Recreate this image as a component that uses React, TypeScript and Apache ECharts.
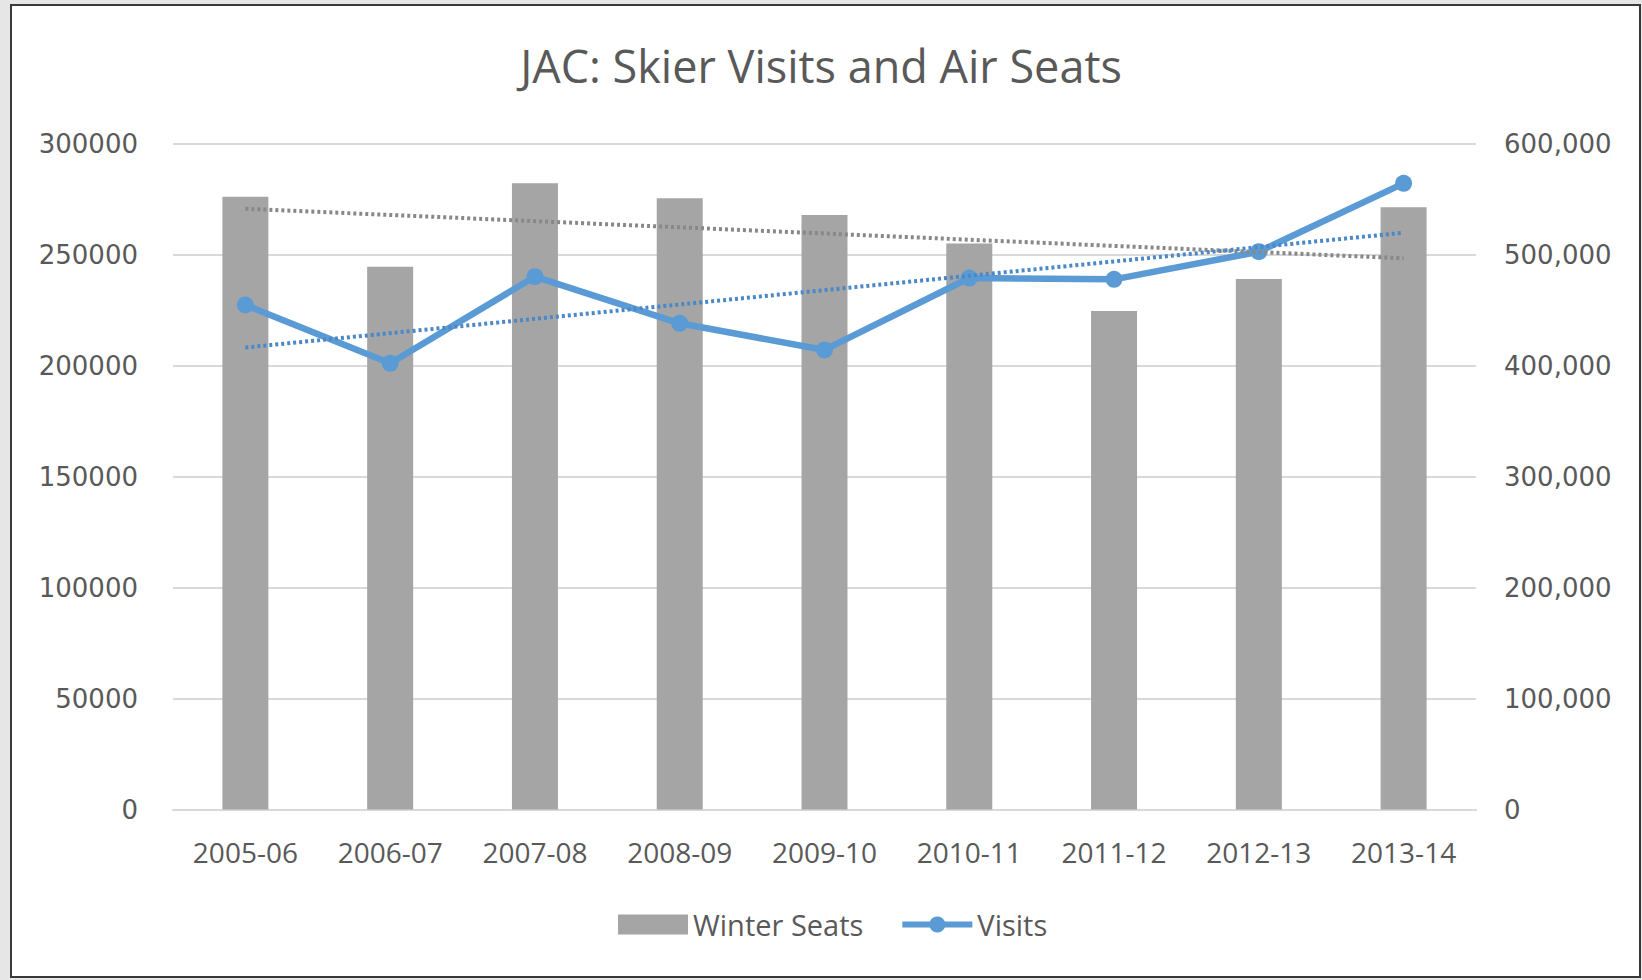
import React, { useEffect, useRef } from "react";
import * as echarts from "echarts";

const categories = ["2005-06", "2006-07", "2007-08", "2008-09", "2009-10", "2010-11", "2011-12", "2012-13", "2013-14"];
const winterSeats = [276000, 244500, 282100, 275300, 267800, 255000, 224600, 239000, 271300];
const visits = [454500, 402000, 480000, 438000, 414000, 478800, 477600, 502500, 564100];
// linear trendline end values (first and last category)
const seatsTrend = [270600, 248300];
const visitsTrend = [416200, 519600];

const leftTicks = { min: 0, max: 300000, interval: 50000 };
const rightTicks = { min: 0, max: 600000, interval: 100000 };

const labelColor = "#595959";
const font = "DejaVu Sans";

export default function App() {
  const ref = useRef<HTMLDivElement>(null);
  useEffect(() => {
    if (!ref.current) return;
    const chart = echarts.init(ref.current, null, { renderer: "svg" });
    const last = categories.length - 1;
    chart.setOption({
      animation: false,
      backgroundColor: "#e6e6e6",
      graphic: [
        {
          type: "rect",
          z: -100,
          shape: { x: 11, y: 5, width: 1629, height: 972 },
          style: { fill: "#ffffff", stroke: "#3a3a3a", lineWidth: 2 },
        },
      ],
      title: {
        text: "JAC: Skier Visits and Air Seats",
        left: "center",
        top: 38,
        textStyle: { fontFamily: "Open Sans", fontSize: 45, fontWeight: "normal", color: labelColor },
      },
      legend: {
        bottom: 36,
        left: 613,
        itemWidth: 70,
        itemHeight: 20,
        itemGap: 36,
        textStyle: { fontFamily: "Open Sans", fontSize: 29, color: labelColor },
        data: [
          { name: "Winter Seats", icon: "rect" },
          { name: "Visits", lineStyle: { width: 6 } },
        ],
      },
      grid: { left: 173, right: 166, top: 143.5, bottom: 170.5, containLabel: false },
      xAxis: {
        type: "category",
        data: categories,
        axisLine: { lineStyle: { color: "#d9d9d9", width: 2 } },
        axisTick: { show: false },
        axisLabel: { margin: 28, fontFamily: "Open Sans", fontSize: 28, color: labelColor },
      },
      yAxis: [
        {
          type: "value",
          ...leftTicks,
          axisLine: { show: false },
          axisTick: { show: false },
          splitLine: { lineStyle: { color: "#d9d9d9", width: 2 } },
          axisLabel: { margin: 35, fontFamily: font, fontSize: 26, color: labelColor, formatter: (v: number) => String(v) },
        },
        {
          type: "value",
          ...rightTicks,
          position: "right",
          axisLine: { show: false },
          axisTick: { show: false },
          splitLine: { show: false },
          axisLabel: {
            margin: 28,
            fontFamily: font,
            fontSize: 26,
            color: labelColor,
            formatter: (v: number) => v.toLocaleString("en-US"),
          },
        },
      ],
      series: [
        {
          name: "Winter Seats",
          type: "bar",
          data: winterSeats,
          barWidth: 46,
          itemStyle: { color: "#a5a5a5" },
          markLine: {
            silent: true,
            symbol: "none",
            label: { show: false },
            lineStyle: { color: "#888888", type: [3, 3], width: 4 },
            data: [[{ coord: [0, seatsTrend[0]] }, { coord: [last, seatsTrend[1]] }]],
          },
        },
        {
          name: "Visits",
          type: "line",
          yAxisIndex: 1,
          data: visits,
          symbol: "circle",
          symbolSize: 17,
          lineStyle: { color: "#5b9bd5", width: 6.5 },
          itemStyle: { color: "#5b9bd5" },
          markLine: {
            silent: true,
            symbol: "none",
            label: { show: false },
            lineStyle: { color: "#4a88c8", type: [3, 3], width: 4 },
            data: [[{ coord: [0, visitsTrend[0]] }, { coord: [last, visitsTrend[1]] }]],
          },
        },
      ],
    });
    return () => chart.dispose();
  }, []);
  return <div ref={ref} style={{ position: "fixed", left: 0, top: 0, width: 1642, height: 980 }} />;
}
